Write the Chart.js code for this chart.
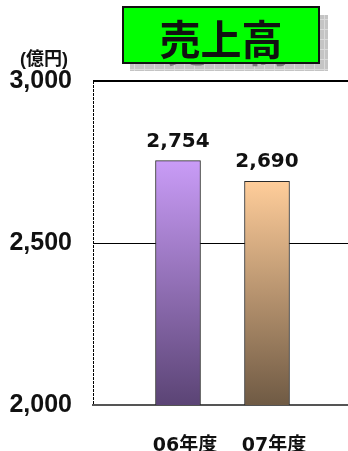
<!DOCTYPE html>
<html>
<head>
<meta charset="utf-8">
<script src="https://cdn.jsdelivr.net/npm/chart.js@4.4.1/dist/chart.umd.min.js"></script>
<style>
  body { margin: 0; background: #fff; }
  canvas { display: block; }
</style>
</head>
<body>
<canvas id="sales" width="348" height="451"></canvas>
<script>
// 売上高 (億円)
var years = ['06年度', '07年度'];
var sales = [2754, 2690];
var yTicks = [2000, 2500, 3000];
var title = '売上高';
var unit = '(億円)';

// gradient ends per bar
var topColors = ['#c99cf7', '#ffcd9a'];
var bottomColors = ['#5b4475', '#6f5a44'];

function fmt(v) {
  return v.toLocaleString('en-US');
}

function barFill(c) {
  var i = c.dataIndex;
  var chart = c.chart;
  var area = chart.chartArea;
  if (!area || c.type !== 'data') return topColors[i];
  var top = chart.scales.y.getPixelForValue(sales[i]);
  var g = chart.ctx.createLinearGradient(0, top, 0, area.bottom);
  g.addColorStop(0, topColors[i]);
  g.addColorStop(1, bottomColors[i]);
  return g;
}

// header box with drop shadow, unit text
var header = {
  id: 'header',
  beforeDraw: function(chart) {
    var ctx = chart.ctx;
    ctx.save();
    ctx.fillStyle = '#fff';
    ctx.fillRect(0, 0, chart.width, chart.height);

    // patterned shadow
    ctx.fillStyle = '#c4c4c4';
    ctx.fillRect(130, 15, 198, 56);
    ctx.strokeStyle = '#dadada';
    ctx.lineWidth = 1;
    for (var x = 134; x < 328; x += 10) {
      ctx.beginPath(); ctx.moveTo(x + 0.5, 15); ctx.lineTo(x + 0.5, 71); ctx.stroke();
    }
    for (var y = 19; y < 71; y += 10) {
      ctx.beginPath(); ctx.moveTo(130, y + 0.5); ctx.lineTo(328, y + 0.5); ctx.stroke();
    }
    ctx.font = 'bold 41px "Noto Sans CJK JP"';
    ctx.textAlign = 'center';
    ctx.textBaseline = 'middle';
    ctx.fillStyle = '#7a7a7a';
    ctx.fillText(title, 228, 46);

    // green box
    ctx.fillStyle = '#00ff00';
    ctx.fillRect(123, 7, 196, 56);
    ctx.strokeStyle = '#111';
    ctx.lineWidth = 2;
    ctx.strokeRect(123, 7, 196, 56);
    ctx.fillStyle = '#111';
    ctx.fillText(title, 221, 39);

    ctx.font = 'bold 18px "Liberation Sans", "Noto Sans CJK JP"';
    ctx.fillText(unit, 44, 60);
    ctx.restore();
  },
  // dotted left edge of the plot
  beforeDatasetsDraw: function(chart) {
    var a = chart.chartArea;
    var ctx = chart.ctx;
    ctx.save();
    ctx.strokeStyle = '#000';
    ctx.lineWidth = 1;
    ctx.setLineDash([3, 1]);
    ctx.beginPath();
    ctx.moveTo(a.left + 0.5, a.top);
    ctx.lineTo(a.left + 0.5, a.bottom);
    ctx.stroke();
    ctx.restore();
  }
};

// value above each bar
var valueLabels = {
  id: 'valueLabels',
  afterDatasetsDraw: function(chart) {
    var ctx = chart.ctx;
    ctx.save();
    ctx.font = 'bold 20px "DejaVu Sans"';
    ctx.fillStyle = '#111';
    ctx.textAlign = 'center';
    ctx.textBaseline = 'alphabetic';
    chart.getDatasetMeta(0).data.forEach(function(bar, i) {
      ctx.fillText(fmt(sales[i]), bar.x, bar.y - 14);
    });
    ctx.restore();
  }
};

new Chart(document.getElementById('sales'), {
  type: 'bar',
  data: {
    datasets: [{
      data: sales.map(function(v, i) { return { x: i, y: v }; }),
      backgroundColor: barFill,
      borderColor: '#2a2a2a',
      borderWidth: 1,
      borderSkipped: 'bottom',
      barThickness: 45
    }]
  },
  options: {
    responsive: false,
    animation: false,
    events: [],
    layout: { padding: { top: 81, right: 0, left: 0, bottom: 0 } },
    plugins: {
      legend: { display: false },
      tooltip: { enabled: false }
    },
    scales: {
      x: {
        type: 'linear',
        offset: false,
        bounds: 'data',
        min: -0.955,
        max: 1.91,
        afterBuildTicks: function(axis) {
          axis.ticks = years.map(function(y, i) { return { value: i }; });
        },
        afterFit: function(axis) { axis.height = 46; },
        grid: { display: false },
        border: { display: true, color: '#555', width: 2 },
        ticks: {
          autoSkip: false,
          maxRotation: 0,
          padding: 22,
          labelOffset: 7,
          color: '#111',
          font: { family: '"DejaVu Sans", "Noto Sans CJK JP"', size: 19, weight: 'bold' },
          callback: function(v) { return years[v]; }
        }
      },
      y: {
        min: 2000,
        max: 3000,
        afterBuildTicks: function(axis) {
          axis.ticks = yTicks.map(function(v) { return { value: v }; });
        },
        afterFit: function(axis) { axis.width = 93; },
        grid: {
          drawTicks: false,
          color: function(c) {
            return c.tick && c.tick.value > 2000 ? '#000' : 'rgba(0,0,0,0)';
          },
          lineWidth: function(c) {
            return c.tick && c.tick.value === 3000 ? 2 : 1;
          }
        },
        border: { display: false },
        ticks: {
          padding: 21,
          color: '#111',
          font: { family: '"Liberation Sans", Arial', size: 25, weight: 'bold' },
          callback: function(v) { return fmt(v); }
        }
      }
    }
  },
  plugins: [header, valueLabels]
});
</script>
</body>
</html>
